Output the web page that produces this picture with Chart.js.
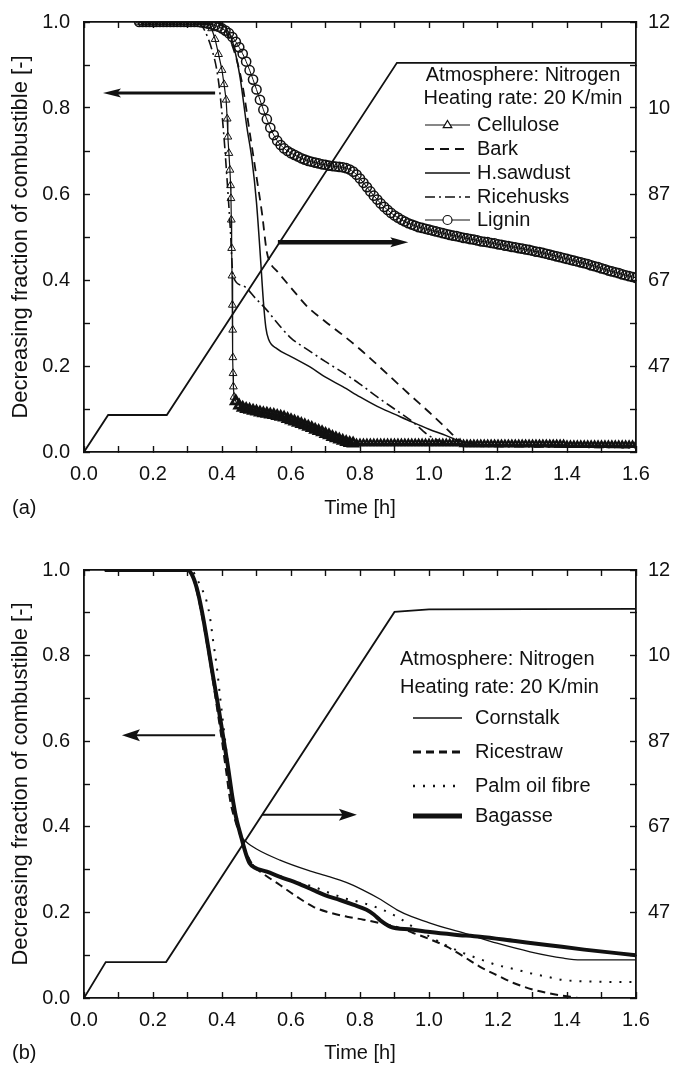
<!DOCTYPE html>
<html>
<head>
<meta charset="utf-8">
<script src="https://cdn.jsdelivr.net/npm/chart.js@4.4.1/dist/chart.umd.min.js"></script>
<style>
  body { margin: 0; background: #fff; }
  canvas { display: block; }
</style>
</head>
<body>
<canvas id="chartA" width="676" height="530"></canvas>
<canvas id="chartB" width="676" height="536"></canvas>
<script>
const INK = '#111';
const FONT = "'Liberation Sans', Arial, Helvetica, sans-serif";

// axis tick labels
const timeTickLabels = ['0.0', '0.2', '0.4', '0.6', '0.8', '1.0', '1.2', '1.4', '1.6'];
const fracTickLabels = ['0.0', '0.2', '0.4', '0.6', '0.8', '1.0'];
const tempTickValues = [473, 673, 873, 1073, 1273];
const tempTickLabels = ['47', '67', '87', '10', '12'];
const headerLines = ['Atmosphere: Nitrogen', 'Heating rate: 20 K/min'];

// ---------- (a) ----------
const namesA = ['Cellulose', 'Bark', 'H.sawdust', 'Ricehusks', 'Lignin'];

const celluloseT = [0.16,0.17,0.18,0.19,0.20,0.21,0.22,0.23,0.24,0.25,0.26,0.27,0.28,0.29,0.30,0.31,0.32,0.33,0.34,0.35,0.36,
  0.37,0.38,0.39,0.40,0.406,0.412,0.415,0.417,0.420,0.423,0.425,0.426,0.427,0.428,0.429,0.430,0.431,0.4315,0.432,0.433,0.435,0.44,
  0.45,0.46,0.47,0.48,0.49,0.50,0.51,0.52,0.53,0.54,0.55,0.56,0.57,0.58,0.59,0.60,0.61,0.62,0.63,0.64,
  0.65,0.66,0.67,0.68,0.69,0.70,0.71,0.72,0.73,0.74,0.75,0.76,0.77,0.78,
  0.79,0.80,0.81,0.82,0.83,0.84,0.85,0.86,0.87,0.88,0.89,0.90,0.91,0.92,0.93,0.94,0.95,0.96,0.97,0.98,0.99,1.00,1.01,1.02,1.03,1.04,1.05,1.06,1.07,1.08,1.09,
  1.10,1.11,1.12,1.13,1.14,1.15,1.16,1.17,1.18,1.19,1.20,1.21,1.22,1.23,1.24,1.25,1.26,1.27,1.28,1.29,1.30,1.31,1.32,1.33,1.34,1.35,1.36,1.37,1.38,1.39,
  1.40,1.41,1.42,1.43,1.44,1.45,1.46,1.47,1.48,1.49,1.50,1.51,1.52,1.53,1.54,1.55,1.56,1.57,1.58,1.59,1.60];
const celluloseF = [1,1,1,1,1,1,1,1,1,1,1,1,1,1,1,1,1,1,1,1,1,
  0.985,0.96,0.925,0.888,0.855,0.819,0.775,0.733,0.695,0.656,0.62,0.59,0.54,0.474,0.41,0.342,0.284,0.22,0.183,0.152,0.128,0.118,
  0.108,0.103,0.100,0.098,0.096,0.094,0.092,0.090,0.089,0.087,0.086,0.084,0.082,0.080,0.077,0.074,0.071,0.068,0.065,0.062,
  0.059,0.056,0.052,0.049,0.046,0.042,0.039,0.035,0.032,0.029,0.026,0.023,0.021,0.020,
  0.020,0.020,0.020,0.020,0.020,0.020,0.020,0.020,0.020,0.020,0.020,0.020,0.020,0.020,0.020,0.020,0.020,0.020,0.020,0.020,0.020,0.020,0.020,0.020,0.020,0.020,0.020,0.020,0.020,0.020,0.020,
  0.018,0.018,0.018,0.018,0.018,0.018,0.018,0.018,0.018,0.018,0.018,0.018,0.018,0.018,0.018,0.018,0.018,0.018,0.018,0.018,0.018,0.018,0.018,0.018,0.018,0.018,0.018,0.018,0.018,0.018,
  0.016,0.016,0.016,0.016,0.016,0.016,0.016,0.016,0.016,0.016,0.016,0.016,0.016,0.016,0.016,0.016,0.016,0.016,0.016,0.016,0.016];

const barkT = [0.16,0.38,0.40,0.42,0.44,0.46,0.48,0.50,0.516,0.53,0.54,0.56,0.60,0.65,0.70,0.75,0.80,0.85,0.90,0.95,1.00,1.05,1.08,1.10,1.20,1.40,1.60];
const barkF = [1,1,0.99,0.965,0.92,0.85,0.745,0.64,0.555,0.465,0.44,0.42,0.382,0.336,0.303,0.272,0.239,0.203,0.166,0.129,0.093,0.055,0.032,0.022,0.015,0.012,0.010];

const sawdustT = [0.16,0.38,0.40,0.42,0.432,0.452,0.472,0.487,0.50,0.51,0.52,0.527,0.535,0.56,0.60,0.655,0.70,0.75,0.80,0.85,0.90,0.95,1.00,1.05,1.08,1.12,1.30,1.60];
const sawdustF = [1,1,0.995,0.975,0.95,0.873,0.756,0.679,0.58,0.47,0.35,0.29,0.262,0.24,0.222,0.198,0.174,0.152,0.128,0.106,0.088,0.07,0.053,0.038,0.028,0.02,0.014,0.012];

const ricehusksT = [0.16,0.33,0.35,0.371,0.385,0.394,0.405,0.415,0.424,0.432,0.46,0.50,0.53,0.55,0.60,0.65,0.70,0.75,0.80,0.85,0.90,0.95,1.00,1.05,1.10,1.30,1.60];
const ricehusksF = [1,1,0.98,0.935,0.888,0.835,0.74,0.63,0.52,0.41,0.387,0.355,0.33,0.31,0.265,0.237,0.21,0.185,0.158,0.128,0.10,0.072,0.038,0.02,0.015,0.012,0.010];

const ligninT = [0.16,0.17,0.18,0.19,0.20,0.21,0.22,0.23,0.24,0.25,0.26,0.27,0.28,0.29,0.30,0.31,0.32,0.33,
  0.34,0.35,0.36,0.37,0.38,0.39,0.40,0.41,0.42,0.43,0.44,0.45,0.46,0.47,0.48,0.49,0.50,0.51,0.52,0.53,
  0.54,0.55,0.56,0.57,0.58,0.59,0.60,0.61,0.62,0.63,0.64,0.65,0.66,0.67,0.68,0.69,0.70,0.71,0.72,0.73,
  0.74,0.75,0.76,0.77,0.78,0.79,0.80,0.81,0.82,0.83,0.84,0.85,0.86,0.87,0.88,0.89,0.90,0.91,0.92,0.93,
  0.94,0.95,0.96,0.97,0.98,0.99,1.00,1.01,1.02,1.03,1.04,1.05,1.06,1.07,1.08,1.09,1.10,1.11,1.12,1.13,
  1.14,1.15,1.16,1.17,1.18,1.19,1.20,1.21,1.22,1.23,1.24,1.25,1.26,1.27,1.28,1.29,1.30,1.31,1.32,1.33,
  1.34,1.35,1.36,1.37,1.38,1.39,1.40,1.41,1.42,1.43,1.44,1.45,1.46,1.47,1.48,1.49,1.50,1.51,1.52,1.53,
  1.54,1.55,1.56,1.57,1.58,1.59,1.60];
const ligninF = [1,1,1,1,1,1,1,1,1,1,1,1,1,1,1,1,1,1,
  0.999,0.998,0.996,0.994,0.992,0.989,0.985,0.980,0.974,0.965,0.954,0.941,0.926,0.908,0.888,0.866,0.843,0.819,0.796,0.774,
  0.754,0.737,0.724,0.714,0.706,0.700,0.695,0.691,0.687,0.683,0.680,0.677,0.675,0.673,0.671,0.669,0.668,0.666,0.665,0.664,
  0.663,0.662,0.660,0.657,0.652,0.645,0.636,0.626,0.616,0.606,0.596,0.587,0.578,0.570,0.563,0.556,0.550,0.545,0.540,0.536,
  0.532,0.529,0.526,0.523,0.521,0.519,0.517,0.515,0.513,0.511,0.509,0.507,0.505,0.503,0.502,0.500,0.498,0.497,0.495,0.494,
  0.492,0.490,0.489,0.488,0.486,0.485,0.483,0.482,0.480,0.479,0.477,0.476,0.474,0.473,0.471,0.470,0.468,0.466,0.465,0.463,
  0.461,0.459,0.457,0.455,0.453,0.451,0.449,0.447,0.445,0.443,0.441,0.439,0.437,0.434,0.432,0.430,0.427,0.425,0.422,0.420,
  0.418,0.416,0.413,0.411,0.409,0.407,0.405];

const tempAT = [0, 0.07, 0.24, 0.907, 1.6];
const tempAK = [273, 359, 359, 1178, 1178];

// ---------- (b) ----------
const namesB = ['Cornstalk', 'Ricestraw', 'Palm oil fibre', 'Bagasse'];

const cornstalkT = [0.06,0.30,0.316,0.33,0.345,0.36,0.374,0.389,0.403,0.417,0.43,0.445,0.456,0.47,0.50,0.568,0.65,0.713,0.76,0.809,0.86,0.907,0.95,1.003,1.05,1.10,1.197,1.293,1.39,1.44,1.60];
const cornstalkF = [1,1,0.985,0.95,0.895,0.828,0.76,0.69,0.618,0.548,0.48,0.41,0.378,0.365,0.348,0.322,0.298,0.283,0.27,0.252,0.23,0.206,0.19,0.175,0.163,0.152,0.128,0.108,0.093,0.089,0.089];

const ricestrawT = [0.06,0.30,0.316,0.33,0.345,0.36,0.374,0.387,0.40,0.412,0.424,0.44,0.456,0.47,0.49,0.52,0.568,0.62,0.665,0.71,0.762,0.81,0.858,0.91,0.954,1.00,1.052,1.10,1.148,1.20,1.245,1.30,1.342,1.40,1.44,1.60];
const ricestrawF = [1,1,0.982,0.94,0.88,0.81,0.74,0.67,0.60,0.53,0.46,0.41,0.373,0.34,0.31,0.29,0.264,0.235,0.213,0.20,0.19,0.183,0.175,0.165,0.152,0.138,0.12,0.097,0.073,0.052,0.035,0.02,0.012,0.004,0.0,0.0];

const palmT = [0.06,0.31,0.33,0.345,0.356,0.365,0.374,0.385,0.395,0.405,0.417,0.43,0.445,0.456,0.47,0.49,0.53,0.568,0.62,0.665,0.713,0.76,0.809,0.86,0.907,0.95,1.003,1.05,1.10,1.15,1.197,1.25,1.293,1.34,1.39,1.45,1.60];
const palmF = [1,1,0.975,0.95,0.925,0.89,0.836,0.773,0.70,0.63,0.55,0.47,0.415,0.375,0.34,0.31,0.295,0.285,0.27,0.26,0.245,0.232,0.222,0.208,0.19,0.168,0.143,0.123,0.105,0.09,0.077,0.067,0.058,0.05,0.042,0.039,0.037];

const bagasseT = [0.06,0.30,0.316,0.33,0.345,0.36,0.374,0.389,0.403,0.417,0.429,0.44,0.456,0.47,0.48,0.494,0.53,0.568,0.62,0.665,0.70,0.742,0.78,0.819,0.84,0.858,0.887,0.95,1.003,1.075,1.148,1.25,1.342,1.45,1.60];
const bagasseF = [1,1,0.984,0.948,0.89,0.82,0.752,0.682,0.612,0.542,0.475,0.425,0.375,0.335,0.315,0.305,0.295,0.283,0.268,0.252,0.24,0.229,0.218,0.206,0.195,0.182,0.167,0.16,0.154,0.148,0.143,0.133,0.124,0.113,0.10];

const tempBT = [0, 0.063, 0.238, 0.90, 1.0, 1.6];
const tempBK = [273, 357, 357, 1175, 1181, 1182];

// ---------- helpers ----------
const xy = (ts, vs) => ts.map((t, i) => ({ x: t, y: vs[i] }));

function curve(label, ts, vs, style) {
  return Object.assign({
    label, data: xy(ts, vs), xAxisID: 'x', yAxisID: 'y',
    borderColor: INK, borderWidth: 1.5, pointRadius: 0, fill: false,
    cubicInterpolationMode: 'monotone'
  }, style);
}

function tempLine(ts, ks) {
  return {
    label: 'Temperature', data: xy(ts, ks), xAxisID: 'x', yAxisID: 'y2',
    borderColor: INK, borderWidth: 1.8, pointRadius: 0, fill: false, tension: 0
  };
}

// vertical axes: keep label padding from pushing the plot area in
const noPad = s => { s.paddingTop = 0; s.paddingBottom = 0; };

function axes(box) {
  const grid = () => ({ drawOnChartArea: false, drawTicks: true, tickLength: -6, tickWidth: 1.4, color: INK });
  const border = () => ({ display: true, color: INK, width: 1.8 });
  const font = { family: FONT, size: 20 };
  return {
    x: {
      type: 'linear', position: 'bottom', min: 0, max: 1.6, grid: grid(), border: border(),
      ticks: {
        stepSize: 0.1, autoSkip: false, maxRotation: 0, padding: 16, color: INK, font,
        callback: v => { const i = Math.round(v * 10); return i % 2 ? '' : timeTickLabels[i / 2]; }
      },
      title: { display: true, text: 'Time [h]', color: INK, font, padding: { top: 0, bottom: box.titlePad } },
      afterFit: s => { s.height = box.bottom; s.paddingLeft = 0; s.paddingRight = 0; }
    },
    xTop: {
      type: 'linear', position: 'top', min: 0, max: 1.6, grid: grid(), border: border(),
      ticks: { stepSize: 0.1, autoSkip: false, maxRotation: 0, padding: 0, callback: () => '' },
      afterFit: s => { s.height = box.top; s.paddingLeft = 0; s.paddingRight = 0; }
    },
    y: {
      type: 'linear', position: 'left', min: 0, max: 1, grid: grid(), border: border(),
      ticks: {
        stepSize: 0.1, autoSkip: false, padding: 20, color: INK, font,
        callback: v => { const i = Math.round(v * 10); return i % 2 ? '' : fracTickLabels[i / 2]; }
      },
      title: { display: true, text: 'Decreasing fraction of combustible [-]', color: INK,
        font: { family: FONT, size: 22 }, padding: { top: 8, bottom: 0 } },
      afterFit: s => { s.width = 84; noPad(s); }
    },
    y2: {
      type: 'linear', position: 'right', min: 273, max: 1273, grid: grid(), border: border(),
      ticks: {
        stepSize: 100, autoSkip: false, padding: 18, color: INK, font,
        callback: v => { const i = tempTickValues.indexOf(Math.round(v)); return i < 0 ? '' : tempTickLabels[i]; }
      },
      afterFit: s => { s.width = 40; noPad(s); }
    }
  };
}

// marker used in the inline legend
function marker(ctx, style, x, y, r) {
  ctx.save();
  ctx.setLineDash([]);
  ctx.lineWidth = 1.2;
  ctx.fillStyle = '#fff';
  ctx.beginPath();
  if (style === 'triangle') {
    ctx.moveTo(x, y - r);
    ctx.lineTo(x + r * 0.95, y + r * 0.6);
    ctx.lineTo(x - r * 0.95, y + r * 0.6);
    ctx.closePath();
  } else {
    ctx.arc(x, y, r, 0, Math.PI * 2);
  }
  ctx.fill();
  ctx.stroke();
  ctx.restore();
}

// legend text, arrows and panel letter drawn on top of the plot
const annotate = {
  id: 'annotate',
  afterDraw(chart, args, o) {
    const { ctx, scales } = chart;
    const xs = scales.x, ys = scales.y;
    ctx.save();
    ctx.fillStyle = INK;
    ctx.strokeStyle = INK;

    o.arrows.forEach(a => {
      const x0 = xs.getPixelForValue(a.from), x1 = xs.getPixelForValue(a.to);
      const y = ys.getPixelForValue(a.at);
      const dir = Math.sign(x1 - x0);
      ctx.lineWidth = a.width;
      ctx.setLineDash([]);
      ctx.beginPath();
      ctx.moveTo(x0, y);
      ctx.lineTo(x1 - dir * a.head * 0.6, y);
      ctx.stroke();
      ctx.beginPath();
      ctx.moveTo(x1, y);
      ctx.lineTo(x1 - dir * a.head, y - a.half);
      ctx.lineTo(x1 - dir * a.head * 0.8, y);
      ctx.lineTo(x1 - dir * a.head, y + a.half);
      ctx.closePath();
      ctx.fill();
    });

    ctx.font = '20px ' + FONT;
    ctx.textBaseline = 'middle';
    ctx.textAlign = o.headerAlign;
    headerLines.forEach((line, i) => ctx.fillText(line, o.headerX, o.headerY[i]));

    ctx.textAlign = 'left';
    o.names.forEach((name, i) => {
      const ds = chart.data.datasets[i];
      const y = o.rowY[i];
      ctx.lineWidth = o.sampleWidth ? o.sampleWidth[i] : ds.borderWidth;
      ctx.setLineDash(ds.borderDash || []);
      ctx.beginPath();
      ctx.moveTo(o.sampleX[0], y);
      ctx.lineTo(o.sampleX[1], y);
      ctx.stroke();
      if (ds.pointStyle) marker(ctx, ds.pointStyle, (o.sampleX[0] + o.sampleX[1]) / 2, y, 4.5);
      ctx.fillText(name, o.textX, y);
    });

    ctx.setLineDash([]);
    ctx.fillText(o.panel, 12, o.panelY);
    ctx.restore();
  }
};

Chart.defaults.font.family = FONT;
Chart.defaults.color = INK;

function baseOptions(box, ann) {
  return {
    responsive: false,
    animation: false,
    devicePixelRatio: 1,
    events: [],
    layout: { padding: 0 },
    plugins: { legend: { display: false }, tooltip: { enabled: false }, annotate: ann },
    scales: axes(box)
  };
}

// cellulose: open triangles on the fast drop, packed into a heavy band afterwards
const celluloseRadius = c => { const t = c.raw ? c.raw.x : 0; return t < 0.44 ? 4.5 : (t > 0.78 ? 3.6 : 5.2); };
const celluloseBorder = c => { const t = c.raw ? c.raw.x : 0; return t < 0.44 ? 1 : (t > 0.78 ? 2.2 : 2.8); };

// (a)
new Chart(document.getElementById('chartA'), {
  type: 'line',
  data: {
    datasets: [
      curve(namesA[0], celluloseT, celluloseF, { borderWidth: 1.2, cubicInterpolationMode: 'default', tension: 0,
        pointStyle: 'triangle', pointRadius: celluloseRadius, pointBorderWidth: celluloseBorder,
        pointBorderColor: INK, pointBackgroundColor: 'rgba(255,255,255,0)' }),
      curve(namesA[1], barkT, barkF, { borderWidth: 1.8, borderDash: [9, 6] }),
      curve(namesA[2], sawdustT, sawdustF, { borderWidth: 1.5 }),
      curve(namesA[3], ricehusksT, ricehusksF, { borderWidth: 1.6, borderDash: [10, 4, 2, 4] }),
      curve(namesA[4], ligninT, ligninF, { borderWidth: 1,
        pointStyle: 'circle', pointRadius: 4.6, pointBorderWidth: 1.5, pointBorderColor: INK, pointBackgroundColor: 'rgba(255,255,255,0)' }),
      tempLine(tempAT, tempAK)
    ]
  },
  options: baseOptions({ top: 22, bottom: 78, titlePad: 10 }, {
    names: namesA,
    headerAlign: 'center', headerX: 523, headerY: [75, 98],
    sampleX: [425, 470], textX: 477, rowY: [125, 149, 173, 197, 220],
    arrows: [
      { from: 0.38, to: 0.055, at: 0.835, width: 3, head: 18, half: 4.5 },
      { from: 0.562, to: 0.94, at: 0.488, width: 4.5, head: 18, half: 5 }
    ],
    panel: '(a)', panelY: 508
  }),
  plugins: [annotate]
});

// (b)
new Chart(document.getElementById('chartB'), {
  type: 'line',
  data: {
    datasets: [
      curve(namesB[0], cornstalkT, cornstalkF, { borderWidth: 1.3 }),
      curve(namesB[1], ricestrawT, ricestrawF, { borderWidth: 2, borderDash: [8, 5] }),
      curve(namesB[2], palmT, palmF, { borderWidth: 2, borderDash: [2, 8] }),
      curve(namesB[3], bagasseT, bagasseF, { borderWidth: 4 }),
      tempLine(tempBT, tempBK)
    ]
  },
  options: baseOptions({ top: 40, bottom: 68, titlePad: 1 }, {
    names: namesB,
    headerAlign: 'left', headerX: 400, headerY: [129, 157],
    sampleX: [413, 462], textX: 475, rowY: [188, 222, 256, 286],
    sampleWidth: [1.3, 3, 2.5, 5],
    arrows: [
      { from: 0.38, to: 0.11, at: 0.614, width: 2, head: 18, half: 6 },
      { from: 0.516, to: 0.791, at: 0.428, width: 2, head: 18, half: 6 }
    ],
    panel: '(b)', panelY: 523
  }),
  plugins: [annotate]
});
</script>
</body>
</html>
